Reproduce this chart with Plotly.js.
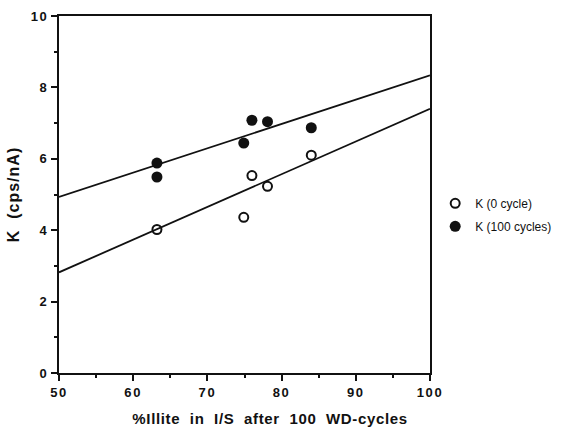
<!DOCTYPE html>
<html>
<head>
<meta charset="utf-8">
<script src="https://cdn.plot.ly/plotly-3.0.1.min.js"></script>
<style>
  html, body { margin: 0; padding: 0; background: #fff; }
  #chart { width: 579px; height: 435px; }
  /* tracked-out lettering for ticks and axis titles */
  #chart .xtick text, #chart .ytick text { letter-spacing: 1.6px; }
  #chart .annotation-text { letter-spacing: 0.65px; }
  #chart .g-ytitle text { letter-spacing: 1px; }
</style>
</head>
<body>
<div id="chart"></div>
<script>
// %Illite in I/S after 100 wetting-drying cycles
const illite0 = [63.2, 74.9, 76.0, 78.1, 84.0];
const k0 = [4.02, 4.36, 5.53, 5.23, 6.10];

const illite100 = [63.2, 63.2, 74.9, 76.0, 78.1, 84.0];
const k100 = [5.88, 5.49, 6.44, 7.08, 7.04, 6.87];

// fitted trend lines (end points)
const fitX = [50, 100];
const fit0 = [2.82, 7.40];
const fit100 = [4.93, 8.34];

const ink = '#111';
const family = 'Liberation Sans, Arial, sans-serif';

const traces = [
  {
    x: fitX, y: fit0, mode: 'lines', showlegend: false, hoverinfo: 'skip',
    line: { color: ink, width: 1.8 }
  },
  {
    x: fitX, y: fit100, mode: 'lines', showlegend: false, hoverinfo: 'skip',
    line: { color: ink, width: 1.8 }
  },
  {
    x: illite0, y: k0, mode: 'markers', name: 'K (0 cycle)', legendgroup: 'k0',
    marker: { symbol: 'circle-open', size: 9, color: ink, line: { width: 2, color: ink } }
  },
  {
    x: illite100, y: k100, mode: 'markers', name: 'K (100 cycles)', legendgroup: 'k100',
    marker: { symbol: 'circle', size: 11, color: ink }
  }
];

const tickFont = { family: family, size: 13, color: ink, weight: 'bold' };
const nb = '\u00A0';
const xTitle = '%Illite' + nb + nb + 'in' + nb + nb + 'I/S' + nb + nb + 'after' + nb + nb + '100' + nb + nb + 'WD-cycles';

const layout = {
  width: 579, height: 435,
  margin: { l: 59, r: 149, t: 16, b: 62 },
  paper_bgcolor: '#fff', plot_bgcolor: '#fff',
  showlegend: true,
  legend: {
    x: 1.014, xanchor: 'left', y: 0.443, yanchor: 'middle',
    font: { family: family, size: 12, color: ink },
    traceorder: 'grouped', tracegroupgap: 4, itemwidth: 30
  },
  annotations: [
    {
      text: xTitle, xref: 'paper', yref: 'paper', x: 0.569, y: -0.1275,
      xanchor: 'center', yanchor: 'middle', showarrow: false,
      font: { family: family, size: 15, color: ink, weight: 'bold' }
    }
  ],
  xaxis: {
    range: [50, 100], dtick: 10, tick0: 50,
    showgrid: false, zeroline: false,
    showline: true, linecolor: ink, linewidth: 2, mirror: true,
    ticks: 'outside', ticklen: 6, tickwidth: 2, tickcolor: ink,
    minor: { dtick: 5, ticks: 'outside', ticklen: 3, tickwidth: 2, tickcolor: ink, showgrid: false },
    tickfont: tickFont
  },
  yaxis: {
    range: [0, 10], dtick: 2, tick0: 0,
    showgrid: false, zeroline: false,
    showline: true, linecolor: ink, linewidth: 2, mirror: true,
    ticks: 'outside', ticklen: 6, tickwidth: 2, tickcolor: ink,
    minor: { dtick: 1, ticks: 'outside', ticklen: 3, tickwidth: 2, tickcolor: ink, showgrid: false },
    tickfont: tickFont,
    title: {
      text: 'K' + nb + nb + '(cps/nA)',
      font: { family: family, size: 16, color: ink, weight: 'bold' },
      standoff: 10
    }
  }
};

Plotly.newPlot('chart', traces, layout, { displayModeBar: false, staticPlot: true });
</script>
</body>
</html>
